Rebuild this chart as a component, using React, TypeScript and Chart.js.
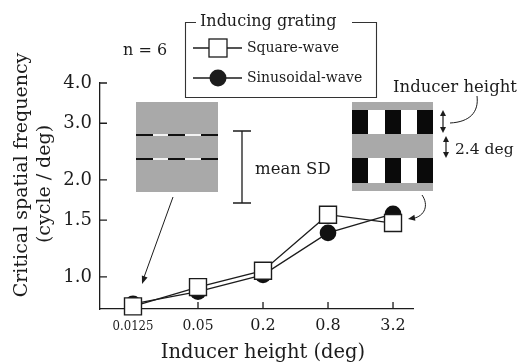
import React, { useEffect, useRef } from 'react';
import { Chart, registerables } from 'chart.js';

Chart.register(...registerables);

// ---- data ----
const categories = ['0.0125', '0.05', '0.2', '0.8', '3.2'];
const inducerHeights = [0.0125, 0.05, 0.2, 0.8, 3.2];
const squareWave = [0.81, 0.93, 1.045, 1.56, 1.47];
const sinusoidalWave = [0.825, 0.9, 1.015, 1.37, 1.57];
const yTickValues = [1.0, 1.5, 2.0, 3.0, 4.0];
const yTickLabels = ['1.0', '1.5', '2.0', '3.0', '4.0'];

// ---- style ----
const SERIF = '"DejaVu Serif", "Liberation Serif", serif';
const INK = '#1c1c1c';
const GRAY = '#a9a9a9';

function arrowHead(ctx: CanvasRenderingContext2D, x: number, y: number, ang: number, len = 6, half = 3) {
  ctx.beginPath();
  ctx.moveTo(x, y);
  ctx.lineTo(x - len * Math.cos(ang) + half * Math.sin(ang), y - len * Math.sin(ang) - half * Math.cos(ang));
  ctx.lineTo(x - len * Math.cos(ang) - half * Math.sin(ang), y - len * Math.sin(ang) + half * Math.cos(ang));
  ctx.closePath();
  ctx.fill();
}

function doubleArrow(ctx: CanvasRenderingContext2D, x: number, y1: number, y2: number) {
  ctx.beginPath();
  ctx.moveTo(x, y1 + 4);
  ctx.lineTo(x, y2 - 4);
  ctx.stroke();
  arrowHead(ctx, x, y1, -Math.PI / 2, 6, 3);
  arrowHead(ctx, x, y2, Math.PI / 2, 6, 3);
}

const deco = {
  id: 'deco',
  beforeDatasetsDraw(chart: any) {
    const ctx: CanvasRenderingContext2D = chart.ctx;
    const xs = chart.scales.x;
    const ys = chart.scales.y;
    ctx.save();
    ctx.strokeStyle = INK;
    ctx.lineWidth = 1.3;
    ctx.beginPath();
    yTickValues.forEach((v) => {
      const py = ys.getPixelForValue(v);
      ctx.moveTo(xs.left, py);
      ctx.lineTo(xs.left + 7, py);
    });
    inducerHeights.forEach((v) => {
      const px = xs.getPixelForValue(v);
      ctx.moveTo(px, ys.bottom);
      ctx.lineTo(px, ys.bottom - 7);
    });
    ctx.stroke();
    ctx.restore();
  },
  afterDraw(chart: any) {
    const ctx: CanvasRenderingContext2D = chart.ctx;
    const xs = chart.scales.x;
    ctx.save();
    ctx.fillStyle = INK;
    ctx.strokeStyle = INK;

    // x tick labels
    ctx.textAlign = 'center';
    ctx.textBaseline = 'alphabetic';
    categories.forEach((c, i) => {
      const px = xs.getPixelForValue(inducerHeights[i]);
      const size = c.length >= 6 ? 12 : c.length === 4 ? 14 : 16;
      const maxW = c.length >= 6 ? 41 : c.length === 4 ? 31 : 26;
      ctx.font = `${size}px ${SERIF}`;
      ctx.fillText(c, px, 330, maxW);
    });

    // axis titles
    ctx.font = `19.5px ${SERIF}`;
    ctx.fillText('Inducer height (deg)', 263, 358);
    ctx.font = `19px ${SERIF}`;
    ctx.textBaseline = 'middle';
    ctx.save();
    ctx.translate(22, 175);
    ctx.rotate(-Math.PI / 2);
    ctx.fillText('Critical spatial frequency', 0, 0);
    ctx.restore();
    ctx.save();
    ctx.translate(45, 184);
    ctx.rotate(-Math.PI / 2);
    ctx.fillText('(cycle / deg)', 0, 0);
    ctx.restore();

    // n = 6
    ctx.textAlign = 'left';
    ctx.textBaseline = 'alphabetic';
    ctx.font = `16px ${SERIF}`;
    ctx.fillText('n = 6', 123, 55);

    // legend box
    ctx.lineWidth = 1.1;
    ctx.strokeStyle = '#333';
    ctx.beginPath();
    ctx.moveTo(196, 22.5);
    ctx.lineTo(185.5, 22.5);
    ctx.lineTo(185.5, 97.5);
    ctx.lineTo(376.5, 97.5);
    ctx.lineTo(376.5, 22.5);
    ctx.lineTo(352, 22.5);
    ctx.stroke();
    ctx.font = `16px ${SERIF}`;
    ctx.fillText('Inducing grating', 200, 26);
    ctx.strokeStyle = INK;
    ctx.lineWidth = 1.3;
    ctx.beginPath();
    ctx.moveTo(193, 48);
    ctx.lineTo(242, 48);
    ctx.moveTo(193, 78);
    ctx.lineTo(242, 78);
    ctx.stroke();
    ctx.fillStyle = '#fff';
    ctx.fillRect(209, 39, 18, 18);
    ctx.strokeRect(209, 39, 18, 18);
    ctx.fillStyle = INK;
    ctx.beginPath();
    ctx.arc(218, 78, 8.5, 0, Math.PI * 2);
    ctx.fill();
    ctx.font = `14px ${SERIF}`;
    ctx.textBaseline = 'middle';
    ctx.fillText('Square-wave', 247, 48);
    ctx.fillText('Sinusoidal-wave', 247, 78);

    // left inset (test pattern)
    ctx.fillStyle = GRAY;
    ctx.fillRect(136, 102, 82, 90);
    const segs = [136, 153, 168, 185, 201, 218];
    [135, 159].forEach((ly) => {
      for (let i = 0; i < 5; i++) {
        ctx.fillStyle = i % 2 === 0 ? '#111' : '#f2f2f2';
        ctx.fillRect(segs[i], ly - 1, segs[i + 1] - segs[i], 2);
      }
    });
    // arrow from left inset
    ctx.fillStyle = INK;
    ctx.strokeStyle = INK;
    ctx.lineWidth = 1;
    ctx.beginPath();
    ctx.moveTo(173, 197);
    ctx.lineTo(143, 280);
    ctx.stroke();
    arrowHead(ctx, 142, 284, Math.atan2(283 - 197, 142 - 173), 8, 3);

    // mean SD bar
    ctx.lineWidth = 1.3;
    ctx.beginPath();
    ctx.moveTo(242, 131);
    ctx.lineTo(242, 203);
    ctx.moveTo(233, 131);
    ctx.lineTo(251, 131);
    ctx.moveTo(233, 203);
    ctx.lineTo(251, 203);
    ctx.stroke();
    ctx.textBaseline = 'alphabetic';
    ctx.font = `16.5px ${SERIF}`;
    ctx.fillText('mean SD', 255, 174);

    // right inset (inducer grating)
    ctx.fillStyle = GRAY;
    ctx.fillRect(352, 102, 81, 89);
    const cols = [352, 368, 385, 401, 417, 433];
    [[110, 134], [158, 183]].forEach(([t, b]) => {
      for (let i = 0; i < 5; i++) {
        ctx.fillStyle = i % 2 === 0 ? '#0a0a0a' : '#ffffff';
        ctx.fillRect(cols[i], t, cols[i + 1] - cols[i], b - t);
      }
    });
    ctx.fillStyle = INK;
    ctx.strokeStyle = INK;
    ctx.lineWidth = 1.2;
    doubleArrow(ctx, 443, 110, 133);
    doubleArrow(ctx, 446, 136, 158);
    ctx.font = `15.5px ${SERIF}`;
    ctx.fillText('2.4 deg', 455, 154);
    ctx.font = `16.5px ${SERIF}`;
    ctx.fillText('Inducer height', 393, 92);
    // leader curve from "Inducer height"
    ctx.lineWidth = 1;
    ctx.beginPath();
    ctx.moveTo(477, 96);
    ctx.bezierCurveTo(479, 112, 470, 122, 450, 123);
    ctx.stroke();
    // curved arrow to 3.2 point
    ctx.beginPath();
    ctx.moveTo(422, 195);
    ctx.bezierCurveTo(429, 205, 425, 216, 413, 218.5);
    ctx.stroke();
    arrowHead(ctx, 408, 219, Math.atan2(219 - 216, 408 - 425), 7, 3);

    ctx.restore();
  },
};

export default function App() {
  const ref = useRef<HTMLCanvasElement | null>(null);
  useEffect(() => {
    document.body.style.margin = '0';
    const canvas = ref.current;
    if (!canvas) return;
    const chart = new Chart(canvas, {
      type: 'line',
      data: {
        datasets: [
          {
            label: 'Square-wave',
            data: inducerHeights.map((x, i) => ({ x, y: squareWave[i] })),
            borderColor: INK,
            borderWidth: 1.3,
            pointStyle: 'rect',
            pointRadius: 12,
            pointBackgroundColor: '#ffffff',
            pointBorderColor: INK,
            pointBorderWidth: 1.4,
            clip: false,
            tension: 0,
          },
          {
            label: 'Sinusoidal-wave',
            data: inducerHeights.map((x, i) => ({ x, y: sinusoidalWave[i] })),
            borderColor: INK,
            borderWidth: 1.3,
            pointStyle: 'circle',
            pointRadius: 8.3,
            pointBackgroundColor: '#111111',
            pointBorderColor: '#111111',
            pointBorderWidth: 0,
            clip: false,
            tension: 0,
          },
        ],
      } as any,
      options: {
        animation: false,
        responsive: false,
        maintainAspectRatio: false,
        events: [],
        layout: { padding: { top: 83, right: 106, left: 0, bottom: 0 } },
        plugins: { legend: { display: false }, tooltip: { enabled: false }, title: { display: false } },
        scales: {
          x: {
            type: 'logarithmic',
            min: 0.006185,
            max: 4.9,
            afterBuildTicks: (s: any) => {
              s.ticks = inducerHeights.map((v) => ({ value: v }));
            },
            afterFit: (s: any) => {
              s.height = 55;
            },
            grid: { display: false, drawTicks: false },
            border: { display: true, color: INK, width: 1.3 },
            ticks: { display: false },
          },
          y: {
            type: 'logarithmic',
            min: 0.795,
            max: 4.0,
            afterBuildTicks: (s: any) => {
              s.ticks = yTickValues.map((v) => ({ value: v }));
            },
            afterFit: (s: any) => {
              s.width = 100;
            },
            grid: { display: false, drawTicks: false },
            border: { display: true, color: INK, width: 1.3 },
            ticks: {
              padding: 8,
              autoSkip: false,
              color: INK,
              font: { family: SERIF, size: 18 },
              callback: (_v: any, i: number) => yTickLabels[i],
            },
          },
        },
      } as any,
      plugins: [deco],
    });
    return () => chart.destroy();
  }, []);
  return (
    <div style={{ width: 519, height: 364 }}>
      <canvas ref={ref} width={519} height={364} style={{ display: 'block' }} />
    </div>
  );
}
